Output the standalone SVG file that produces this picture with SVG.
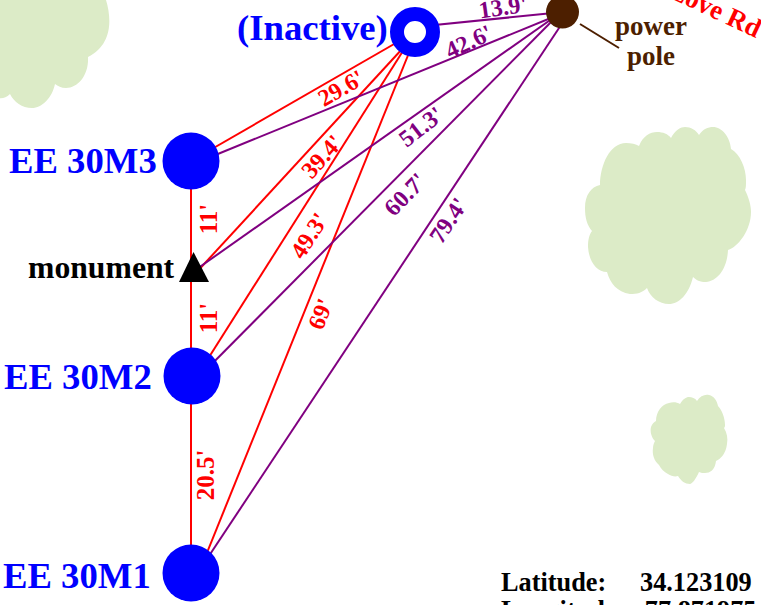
<svg xmlns="http://www.w3.org/2000/svg" width="761" height="605" viewBox="0 0 761 605">
<style>
text{font-family:"Liberation Serif","Times New Roman",serif;font-weight:bold}
.tree{fill:#dcebc7;stroke:none}
.r{stroke:#ff0000;stroke-width:2;fill:none}
.p{stroke:#800080;stroke-width:2;fill:none}
.lr{fill:#ff0000;font-size:24px;text-anchor:middle}
.lp{fill:#800080;font-size:24px;text-anchor:middle}
.v{font-size:25px}
.n{fill:#0000ff;font-size:36.7px}
.b{fill:#4d1f00;font-size:27px;text-anchor:middle}
.k{fill:#000;font-size:26.3px}
</style>
<rect width="761" height="605" fill="#ffffff"/>
<g id="trees">
<path class="tree" d="M-2 0H106C112 20 112 45 88 57C89 75 78 88 66 88C61 88 58 86 55 84C52 98 42 108 32 108C22 108 14 102 10 94C6 98 2 99 -2 98Z"/>
<path class="tree" d="M639 146C643 136 650 132 657 132C663 132 668 134 671 138C675 130 681 127 685 127C691 127 696 130 699 135C703 129 708 127 713 127C722 127 730 137 731 149C740 154 746 168 746 180C746 185 746 188 745 190C749 198 751 206 751 212C751 230 738 247 728 250C727 270 717 281 706 282C700 282 696 280 693 277C689 294 679 304 669 304C659 304 650 297 647 288C642 293 637 294 630 294C617 292 610 283 607 272C597 272 589 262 588 247C588 240 589 235 592 231C587 225 585 218 585 208C585 195 591 187 600 185C600 165 610 143 626 143C631 143 636 144 639 146Z"/>
<path class="tree" d="M669 403C672 402 677 402 680 404C683 399 686 397 689 397C692 397 695 398 697 401C700 396 705 394 709 395C714 396 717 401 718 406C722 410 725 418 725 425C725 426 725 427 724 428C727 433 728 438 727 444C726 453 721 459 716 461C715 470 710 473 705 473C703 473 701 473 699 472C696 479 692 484 690 484C685 484 681 481 678 476C675 477 671 476 668 474C664 472 661 469 659 465C654 461 652 454 653 448C653 445 654 443 655 441C651 437 650 431 651 427C652 424 654 422 656 421C656 412 662 404 669 403Z"/>
</g>
<g id="connectors">
<path class="r" d="M191 161V573"/>
<path class="r" d="M191 161L415 32"/>
<path class="r" d="M194 275L415 35"/>
<path class="r" d="M192 384L415 32"/>
<path class="r" d="M200 570L415 38"/>
<path class="p" d="M415 27L563 12"/>
<path class="p" d="M191 165L563 13"/>
<path class="p" d="M194 271L563 11"/>
<path class="p" d="M192 384L563 10"/>
<path class="p" d="M191 583L563 22"/>
<path d="M580 24L619 48" stroke="#4d1f00" stroke-width="2" fill="none"/>
</g>
<g id="labels">
<text class="lr" transform="translate(345 95) rotate(-30)">29.6'</text>
<text class="lr" transform="translate(328 162) rotate(-48)">39.4'</text>
<text class="lr" transform="translate(316 240) rotate(-57)">49.3'</text>
<text class="lr" transform="translate(328 317) rotate(-68)">69'</text>
<text class="lr v" transform="translate(217 219) rotate(-90)">11'</text>
<text class="lr v" transform="translate(217 318) rotate(-90)">11'</text>
<text class="lr v" transform="translate(214 475) rotate(-90)">20.5'</text>
<text class="lp" transform="translate(504 15) rotate(-8)">13.9'</text>
<text class="lp" transform="translate(472 49) rotate(-25)">42.6'</text>
<text class="lp" transform="translate(426 133) rotate(-38)">51.3'</text>
<text class="lp" transform="translate(411 200) rotate(-46)">60.7'</text>
<text class="lp" transform="translate(455 225) rotate(-56)">79.4'</text>
<text fill="#ff0000" font-size="27" text-anchor="end" transform="translate(756 38) rotate(25)">Love Rd</text>
<text class="b" x="651" y="35">power</text>
<text class="b" x="651" y="65">pole</text>
<text class="k" x="501" y="591">Latitude:</text>
<text class="k" x="640" y="591">34.123109</text>
<text class="k" x="501" y="619">Longitude:</text>
<text class="k" x="636" y="619">-77.871975</text>
</g>
<g id="node-inactive"><circle cx="415" cy="32" r="18" fill="#fff" stroke="#0000ff" stroke-width="14"/><text class="n" x="237" y="40">(Inactive)</text></g>
<g id="node-pole"><circle cx="562.500" cy="12" r="16.500" fill="#4d1f00"/></g>
<g id="node-m3"><circle cx="191" cy="161" r="28.500" fill="#0000ff"/><text class="n" x="9" y="173">EE 30M3</text></g>
<g id="node-monument"><path d="M193.500 252L209 282H179Z" fill="#000"/><text x="28" y="278" fill="#000" font-size="31.700">monument</text></g>
<g id="node-m2"><circle cx="192" cy="376" r="28.500" fill="#0000ff"/><text class="n" x="4" y="389">EE 30M2</text></g>
<g id="node-m1"><circle cx="191" cy="573" r="28.500" fill="#0000ff"/><text class="n" x="3" y="588">EE 30M1</text></g>
</svg>
